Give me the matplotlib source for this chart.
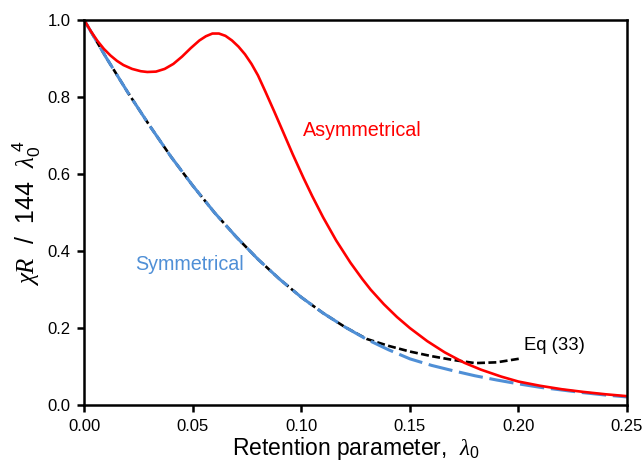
import matplotlib
matplotlib.use("Agg")
import matplotlib.pyplot as plt

# ==========================================
# Data
# ==========================================
asym_x = [0.000, 0.003, 0.006, 0.009, 0.012, 0.015, 0.018, 0.022, 0.026, 0.029,
          0.033, 0.037, 0.041, 0.045, 0.049, 0.053, 0.056, 0.059, 0.062, 0.065,
          0.068, 0.071, 0.074, 0.077, 0.080, 0.0834, 0.0875, 0.0918, 0.096,
          0.101, 0.105, 0.110, 0.116, 0.1226, 0.128, 0.1319, 0.138, 0.144,
          0.150, 0.158, 0.166, 0.175, 0.1827, 0.192, 0.200, 0.210, 0.220,
          0.230, 0.240, 0.250]
asym_y = [1.000, 0.972, 0.947, 0.926, 0.909, 0.895, 0.884, 0.874, 0.868, 0.866,
          0.867, 0.874, 0.887, 0.906, 0.928, 0.948, 0.959, 0.966, 0.966, 0.960,
          0.948, 0.932, 0.912, 0.887, 0.857, 0.815, 0.763, 0.707, 0.652,
          0.590, 0.543, 0.488, 0.428, 0.370, 0.328, 0.300, 0.262, 0.229,
          0.200, 0.166, 0.137, 0.110, 0.092, 0.074, 0.061, 0.050, 0.041,
          0.034, 0.028, 0.023]

sym_x = [0.00, 0.01, 0.02, 0.03, 0.04, 0.05, 0.06, 0.07, 0.08, 0.09, 0.10,
         0.11, 0.12, 0.13, 0.14, 0.15, 0.16, 0.17, 0.18, 0.19, 0.20, 0.21,
         0.22, 0.23, 0.24, 0.25]
sym_y = [1.000, 0.904, 0.813, 0.727, 0.645, 0.570, 0.500, 0.437, 0.379, 0.327,
         0.280, 0.239, 0.203, 0.171, 0.144, 0.120, 0.103, 0.089, 0.076, 0.065,
         0.055, 0.046, 0.039, 0.032, 0.026, 0.021]

eq33_x = [0.00, 0.01, 0.02, 0.03, 0.04, 0.05, 0.06, 0.07, 0.08, 0.09, 0.10,
          0.11, 0.12, 0.13, 0.14, 0.15, 0.16, 0.17, 0.18, 0.19, 0.201]
eq33_y = [1.000, 0.904, 0.813, 0.727, 0.645, 0.570, 0.500, 0.437, 0.379, 0.327,
          0.280, 0.239, 0.203, 0.172, 0.154, 0.139, 0.127, 0.117, 0.109, 0.111,
          0.121]

x_ticks = [0.00, 0.05, 0.10, 0.15, 0.20, 0.25]
y_ticks = [0.0, 0.2, 0.4, 0.6, 0.8, 1.0]

# ==========================================
# Style
# ==========================================
plt.rcParams["font.family"] = ["Liberation Sans", "DejaVu Sans"]
plt.rcParams["mathtext.fontset"] = "custom"
plt.rcParams["mathtext.rm"] = "Liberation Sans"
plt.rcParams["mathtext.it"] = "Liberation Serif:italic"

red = "#ff0000"
blue = "#4f8fd6"

fig = plt.figure(figsize=(6.44, 4.65), dpi=100)
ax = fig.add_axes([0.131, 0.129, 0.8426, 0.827])

# ==========================================
# Curves
# ==========================================
ax.plot(eq33_x, eq33_y, color="black", linewidth=1.9, dashes=(3, 1.3),
        solid_capstyle="butt")
ax.plot(sym_x, sym_y, color=blue, linewidth=2.2, dashes=(8, 2.2))
ax.plot(asym_x, asym_y, color=red, linewidth=1.9)

ax.text(0.1005, 0.715, "Asymmetrical", color=red, fontsize=14.2, va="center")
ax.text(0.0235, 0.366, "Symmetrical", color=blue, fontsize=14.2, va="center")
ax.text(0.2026, 0.156, "Eq (33)", color="black", fontsize=13.3, va="center")

# ==========================================
# Axes
# ==========================================
ax.set_xlim(0, 0.25)
ax.set_ylim(0, 1.0)
ax.set_xticks(x_ticks)
ax.set_yticks(y_ticks)
ax.set_xticklabels([f"{t:.2f}" for t in x_ticks])
ax.set_yticklabels([f"{t:.1f}" for t in y_ticks])
ax.tick_params(direction="out", length=5, width=1.8, labelsize=12,
               colors="black", pad=5)
for side in ["left", "bottom", "top", "right"]:
    ax.spines[side].set_linewidth(1.8)

ax.set_xlabel(r"Retention parameter,  $\lambda_0$", fontsize=16.5, labelpad=1)
ax.set_ylabel(r"$\chi R$  /  144  $\lambda_0^{\;4}$", fontsize=18, labelpad=3)

fig.savefig("out.png", dpi=100)
